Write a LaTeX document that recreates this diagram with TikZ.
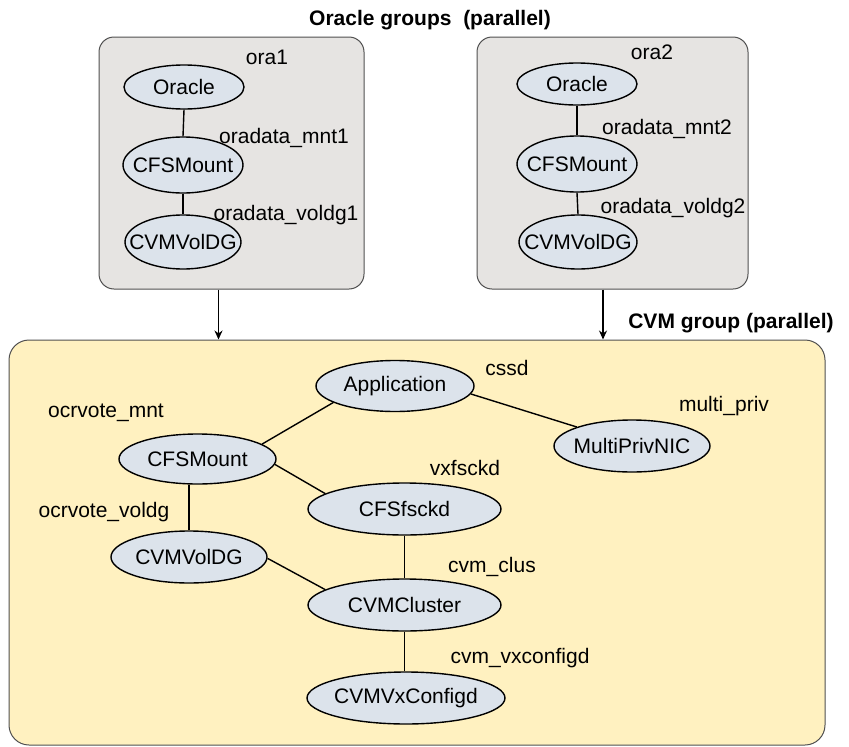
\documentclass[tikz,border=0pt]{standalone}
\usepackage{fontspec}
\setmainfont{Liberation Sans}
\usetikzlibrary{shapes.geometric,arrows.meta}
\definecolor{ellfill}{HTML}{DCE3EB}
\definecolor{grayfill}{HTML}{E6E4E2}
\definecolor{yellowfill}{HTML}{FFF1C0}
\definecolor{boxline}{HTML}{505050}
\newcommand\ztxt[1]{\makebox[0pt][c]{#1}}
\newcommand\fsz{\fontsize{21}{25}\selectfont}
\begin{document}
\begin{tikzpicture}[x=1pt,y=-1pt,
  ell/.style={ellipse, draw=black, fill=ellfill, line width=1.4pt, inner sep=0pt, font=\fsz},
  lbl/.style={inner sep=0pt, font=\fsz, text height=15pt, text depth=4.5pt},
  ttl/.style={inner sep=0pt, font=\fsz\bfseries, text height=15pt, text depth=4.5pt},
  grp/.style={draw=boxline, line width=1pt, rounded corners=15pt, fill=grayfill, inner sep=0pt},
  ygrp/.style={draw=boxline, line width=1pt, rounded corners=20pt, fill=yellowfill, inner sep=0pt},
  conn/.style={line width=1.4pt},
  arr/.style={line width=1.4pt, -{Stealth[length=9pt,width=8pt]}}]
\useasboundingbox (0,0) rectangle (849,747);

% group boxes
\node[grp, minimum width=265pt, minimum height=252pt] (g1) at (231.5,163) {};
\node[grp, minimum width=271pt, minimum height=252pt] (g2) at (612.5,163) {};
\node[ygrp, minimum width=816pt, minimum height=405pt] (cvm) at (417,542.5) {};

% titles
\node[ttl] (t1) at (430,20) {Oracle groups\ \ (parallel)};
\node[ttl] (t2) at (731,323) {CVM group (parallel)};

% left oracle group
\node[ell, minimum width=120pt, minimum height=44pt] (o1) at (184,87) {\ztxt{Oracle}};
\node[ell, minimum width=120pt, minimum height=56pt] (m1) at (183,165) {\ztxt{CFSMount}};
\node[ell, minimum width=116pt, minimum height=54pt] (v1) at (183,242) {\ztxt{CVMVolDG}};
\node[lbl] (l1) at (267,59) {ora1};
\node[lbl] (l2) at (284,138) {oradata\_mnt1};
\node[lbl] (l3) at (286,215) {oradata\_voldg1};
\draw[conn] (o1.south) -- (m1.north);
\draw[conn] (m1.south) -- (v1.north);

% right oracle group
\node[ell, minimum width=120pt, minimum height=42pt] (o2) at (577,84) {\ztxt{Oracle}};
\node[ell, minimum width=120pt, minimum height=56pt] (m2) at (577,164) {\ztxt{CFSMount}};
\node[ell, minimum width=118pt, minimum height=54pt] (v2) at (578,242) {\ztxt{CVMVolDG}};
\node[lbl] (r1) at (652,54) {ora2};
\node[lbl] (r2) at (667,129) {oradata\_mnt2};
\node[lbl] (r3) at (673,208) {oradata\_voldg2};
\draw[conn] (o2.south) -- (m2.north);
\draw[conn] (m2.south) -- (v2.north);

% arrows
\coordinate (ax1) at (218.5,0);
\coordinate (ax2) at (603,0);
\draw[arr] (g1.south -| ax1) -- (cvm.north -| ax1);
\draw[arr] (g2.south -| ax2) -- (cvm.north -| ax2);

% CVM group
\node[ell, minimum width=158pt, minimum height=51pt] (app) at (395,386) {\ztxt{Application}};
\node[ell, minimum width=156pt, minimum height=52pt] (mpn) at (632,446) {\ztxt{MultiPrivNIC}};
\node[ell, minimum width=157pt, minimum height=50pt] (bcfs) at (197.5,459) {\ztxt{CFSMount}};
\node[ell, minimum width=193pt, minimum height=52pt] (fsck) at (404.5,509) {\ztxt{CFSfsckd}};
\node[ell, minimum width=156pt, minimum height=52pt] (bvol) at (189,557) {\ztxt{CVMVolDG}};
\node[ell, minimum width=193pt, minimum height=52pt] (clus) at (404.5,605) {\ztxt{CVMCluster}};
\node[ell, minimum width=198pt, minimum height=52pt] (vx) at (406,698) {\ztxt{CVMVxConfigd}};

\node[lbl] (c1) at (106,412) {ocrvote\_mnt};
\node[lbl] (c2) at (104,512) {ocrvote\_voldg};
\node[lbl] (c3) at (507,370) {cssd};
\node[lbl] (c4) at (724,406) {multi\_priv};
\node[lbl] (c5) at (465,470) {vxfsckd};
\node[lbl] (c6) at (492,567) {cvm\_clus};
\node[lbl] (c7) at (520,658) {cvm\_vxconfigd};

\draw[conn] (bcfs.13) -- (app.195);
\draw[conn] (app.-6) -- (mpn.161);
\draw[conn] (bcfs.-4) -- (fsck.169);
\draw[conn] (bvol.north) -- (bvol.north |- bcfs.south);
\draw[conn] (bvol.-1) -- (clus.169);
\draw[conn] (fsck.south) -- (clus.north);
\draw[conn] (clus.south) -- (clus.south |- vx.north);
\end{tikzpicture}
\end{document}
